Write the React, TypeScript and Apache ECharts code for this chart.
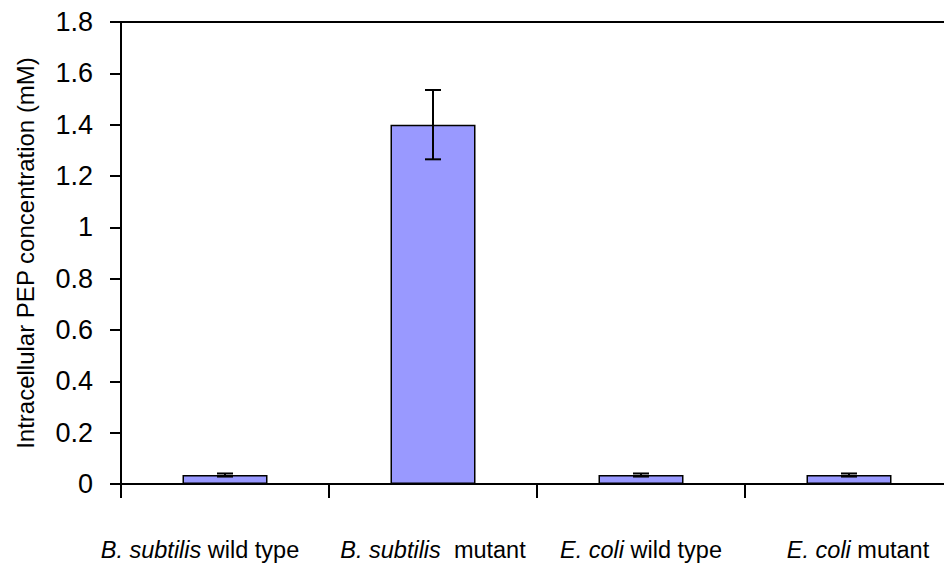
import React, { useEffect, useRef } from "react";
import * as echarts from "echarts";

const categories = [
  "{i|B. subtilis} {n|wild type}{p|}",
  "{i|B. subtilis}  {n|mutant}",
  "{i|E. coli} {n|wild type}",
  "{p2|}{i|E. coli} {n|mutant}",
];
const values = [0.035, 1.4, 0.035, 0.035];
const errors = [0.006, 0.135, 0.006, 0.006];
const yTicks = { min: 0, max: 1.8, interval: 0.2 };
const yTitle = "Intracellular PEP concentration (mM)";

const FONT = "'Liberation Sans', Arial, Helvetica, sans-serif";

export default function App() {
  const ref = useRef<HTMLDivElement>(null);
  useEffect(() => {
    if (!ref.current) return;
    const chart = echarts.init(ref.current, null, { renderer: "svg" });
    chart.setOption({
      animation: false,
      backgroundColor: "#ffffff",
      grid: {
        left: 121,
        top: 22,
        width: 832,
        height: 462,
        containLabel: false,
        outerBoundsMode: "none",
        show: true,
        borderColor: "#000",
        borderWidth: 2,
        backgroundColor: "transparent",
      },
      xAxis: {
        type: "category",
        data: categories,
        axisLine: { show: true, lineStyle: { color: "#000", width: 2 } },
        axisTick: { show: true, length: 14, lineStyle: { color: "#000", width: 2 } },
        axisLabel: {
          margin: 54,
          fontFamily: FONT,
          fontSize: 23.5,
          color: "#000",
          interval: 0,
          formatter: (v: string) => v,
          rich: {
            i: { fontStyle: "italic", fontFamily: FONT, fontSize: 23.5, color: "#000" },
            n: { fontFamily: FONT, fontSize: 23.5, color: "#000" },
            p: { width: 50, fontSize: 23.5 },
            p2: { width: 18, fontSize: 23.5 },
          },
        },
        splitLine: { show: false },
      },
      yAxis: {
        type: "value",
        min: yTicks.min,
        max: yTicks.max,
        interval: yTicks.interval,
        name: yTitle,
        nameLocation: "middle",
        nameGap: 84,
        nameRotate: 90,
        nameTextStyle: { fontFamily: FONT, fontSize: 24, color: "#000" },
        axisLine: { show: true, lineStyle: { color: "#000", width: 2 } },
        axisTick: { show: true, length: 11, lineStyle: { color: "#000", width: 2 } },
        axisLabel: {
          margin: 28,
          fontFamily: FONT,
          fontSize: 27,
          color: "#000",
          formatter: (v: number) => String(Math.round(v * 10) / 10),
        },
        splitLine: { show: false },
      },
      series: [
        {
          type: "bar",
          data: values,
          barWidth: 85,
          itemStyle: { color: "#9999FF", borderColor: "#000", borderWidth: 1.5 },
          z: 2,
        },
        {
          type: "custom",
          z: 3,
          data: values.map((v, i) => [i, v, errors[i]]),
          renderItem: (params: any, api: any) => {
            const idx = api.value(0);
            const v = api.value(1);
            const e = api.value(2);
            const top = api.coord([idx, v + e]);
            const bot = api.coord([idx, v - e]);
            const hw = 8;
            const style = { stroke: "#000", lineWidth: 2 };
            return {
              type: "group",
              children: [
                { type: "line", shape: { x1: top[0], y1: top[1], x2: bot[0], y2: bot[1] }, style },
                { type: "line", shape: { x1: top[0] - hw, y1: top[1], x2: top[0] + hw, y2: top[1] }, style },
                { type: "line", shape: { x1: bot[0] - hw, y1: bot[1], x2: bot[0] + hw, y2: bot[1] }, style },
              ],
            };
          },
        },
      ],
    });
    return () => chart.dispose();
  }, []);
  return <div ref={ref} style={{ width: 944, height: 568, position: "absolute", left: 0, top: 0 }} />;
}
